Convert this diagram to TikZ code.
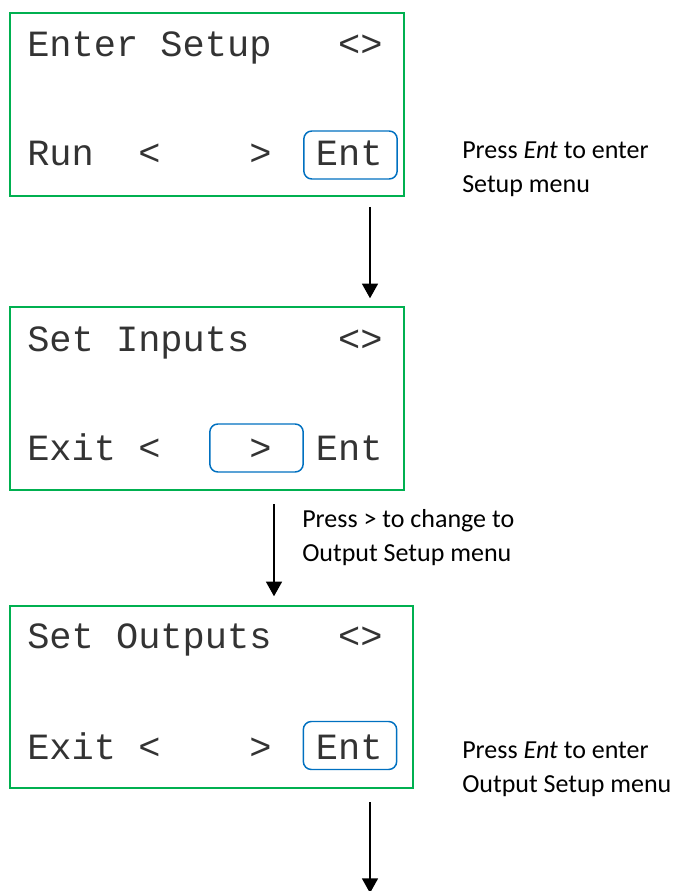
\documentclass[tikz,border=0pt]{standalone}
\usepackage{fontspec}
\setmainfont{Carlito}
\newfontfamily\lcdfont{Liberation Mono}
\usetikzlibrary{arrows.meta}
\definecolor{lcdgreen}{HTML}{00B050}
\definecolor{keyblue}{HTML}{0070C0}

\begin{document}
\begin{tikzpicture}[x=0.75pt,y=-0.75pt,
  screen/.style={draw=lcdgreen,line width=1.1pt,inner sep=0pt},
  keybox/.style={draw=keyblue,line width=1.1pt,rounded corners=6pt,inner sep=0pt,
    minimum width=70pt,minimum height=36pt},
  lcdrow/.style={anchor=base west,inner sep=0pt,text=black!80,
    font=\lcdfont\fontsize{27.75}{30}\selectfont},
  note/.style={anchor=base west,inner sep=0pt,align=left,font=\fontsize{19.5}{25.5}\selectfont},
  flow/.style={-{Triangle[width=12pt,length=11pt]},line width=1.2pt}]
\useasboundingbox (0,0) rectangle (679,891);
% screens
\node[screen,minimum width=295.5pt,minimum height=137.25pt] (scr1) at (207,104.5) {};
\node[screen,minimum width=295.5pt,minimum height=137.25pt] (scr2) at (207,398.5) {};
\node[screen,minimum width=302.25pt,minimum height=136.5pt] (scr3) at (211.5,697) {};
% selected keys
\node[keybox] (key1) at (350.5,155) {};
\node[keybox] (key2) at (256.5,448) {};
\node[keybox] (key3) at (350,745.5) {};
% display rows
\node[lcdrow] (row1a) at (27,57) {Enter Setup~~~<>};
\node[lcdrow] (row1b) at (27,166) {Run~~<~~~~>~~Ent};
\node[lcdrow] (row2a) at (27,351) {Set Inputs~~~~<>};
\node[lcdrow] (row2b) at (27,460) {Exit~<~~~~>~~Ent};
\node[lcdrow] (row3a) at (27,648) {Set Outputs~~~<>};
\node[lcdrow] (row3b) at (27,759) {Exit~<~~~~>~~Ent};
% notes (anchored on the last line)
\node[note] (note1) at (462,193) {Press \textit{Ent} to enter\\Setup menu};
\node[note] (note2) at (302,561) {Press > to change to\\Output Setup menu};
\node[note] (note3) at (462,792) {Press \textit{Ent} to enter\\Output Setup menu};
% arrows
\coordinate (a1) at (370,207);
\coordinate (a2) at (274,504);
\coordinate (a3) at (370,802);
\coordinate (a3end) at (370,893);
\draw[flow,shorten >=6pt] (a1) -- (a1 |- scr2.north);
\draw[flow,shorten >=6.75pt] (a2) -- (a2 |- scr3.north);
\draw[flow] (a3) -- (a3end);
\end{tikzpicture}
\end{document}
